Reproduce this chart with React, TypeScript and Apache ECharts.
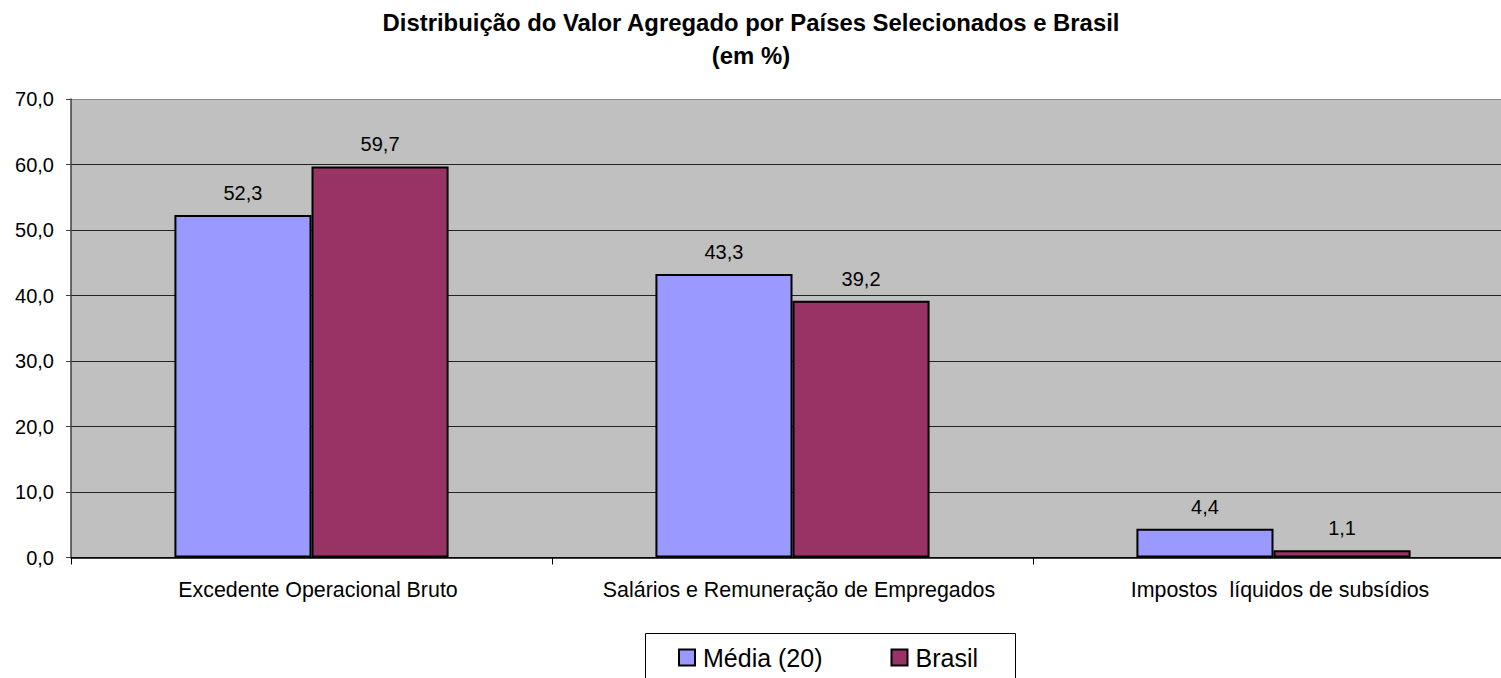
import React, { useEffect, useRef } from "react";
import * as echarts from "echarts";

const titleLines = ["Distribuição do Valor Agregado por Países Selecionados e Brasil", "(em %)"];
const categories = ["Excedente Operacional Bruto", "Salários e Remuneração de Empregados", "Impostos  líquidos de subsídios"];
const seriesNames = ["Média (20)", "Brasil"];
const mediaValues = [52.3, 43.3, 4.4];
const brasilValues = [59.7, 39.2, 1.1];
const colors = ["#9999FF", "#993366"];

const fmt = (v: number) => v.toFixed(1).replace(".", ",");

export default function App() {
  const ref = useRef<HTMLDivElement>(null);
  useEffect(() => {
    if (!ref.current) return;
    const chart = echarts.init(ref.current, undefined, { renderer: "svg" });
    const font = "'Liberation Sans', Arial, sans-serif";
    const titleFont = "bold 24px 'Liberation Sans', Arial, sans-serif";
    chart.setOption({
      animation: false,
      backgroundColor: "#FFFFFF",
      graphic: [
        {
          type: "text",
          x: 751,
          y: 22,
          scaleX: 0.995,
          z: 10,
          style: { text: titleLines[0], font: titleFont, fill: "#000", textAlign: "center", textVerticalAlign: "middle" },
        },
        {
          type: "text",
          x: 751,
          y: 55,
          scaleX: 0.995,
          z: 10,
          style: { text: titleLines[1], font: titleFont, fill: "#000", textAlign: "center", textVerticalAlign: "middle" },
        },
        {
          type: "rect",
          z: 0,
          shape: { x: 645.5, y: 633.5, width: 370, height: 80 },
          style: { fill: "#fff", stroke: "#000", lineWidth: 1 },
        },
      ],
      legend: {
        left: 678,
        top: 645,
        padding: 0,
        itemGap: 68,
        itemWidth: 16,
        itemHeight: 16,
        z: 10,
        icon: "rect",
        data: seriesNames,
        textStyle: { fontFamily: font, fontSize: 25, color: "#000", padding: [0, 0, 0, 3] },
      },
      grid: {
        left: 71,
        top: 99,
        width: 1443,
        height: 458.5,
        show: true,
        backgroundColor: "#C0C0C0",
        borderWidth: 0,
      },
      xAxis: {
        type: "category",
        data: categories,
        axisLine: { show: true, lineStyle: { color: "#000", width: 1.5 } },
        axisTick: { show: true, length: 7, lineStyle: { color: "#000", width: 1 } },
        axisLabel: {
          interval: 0,
          hideOverlap: false,
          fontFamily: font,
          fontSize: 21.4,
          color: "#000",
          margin: 22,
          padding: [0, 0, 0, 13],
        },
      },
      yAxis: {
        type: "value",
        min: 0,
        max: 70,
        interval: 10,
        axisLine: { show: true, lineStyle: { color: "#404040", width: 1.5 } },
        axisTick: { show: true, length: 5, lineStyle: { color: "#404040" } },
        axisLabel: { fontFamily: font, fontSize: 20, color: "#000", margin: 17, formatter: (v: number) => fmt(v) },
        splitLine: {
          show: true,
          lineStyle: {
            color: ["#222", "#222", "#222", "#222", "#222", "#222", "#222", "#8C8C8C"],
            width: 1,
          },
        },
      },
      series: [
        {
          name: seriesNames[0],
          type: "bar",
          data: mediaValues,
          barGap: "0%",
          barCategoryGap: "43%",
          itemStyle: { color: colors[0], borderColor: "#000", borderWidth: 2 },
          label: {
            show: true,
            position: "top",
            distance: 12,
            fontFamily: font,
            fontSize: 20,
            color: "#000",
            formatter: (p: any) => fmt(p.value),
          },
        },
        {
          name: seriesNames[1],
          type: "bar",
          data: brasilValues,
          barGap: "0%",
          barCategoryGap: "43%",
          itemStyle: { color: colors[1], borderColor: "#000", borderWidth: 2 },
          label: {
            show: true,
            position: "top",
            distance: 12,
            fontFamily: font,
            fontSize: 20,
            color: "#000",
            formatter: (p: any) => fmt(p.value),
          },
        },
      ],
    });
    return () => chart.dispose();
  }, []);
  return (
    <div style={{ position: "fixed", left: 0, top: 0, width: 1501, height: 678, overflow: "hidden", background: "#fff" }}>
      <div ref={ref} style={{ width: 1520, height: 678 }} />
    </div>
  );
}
